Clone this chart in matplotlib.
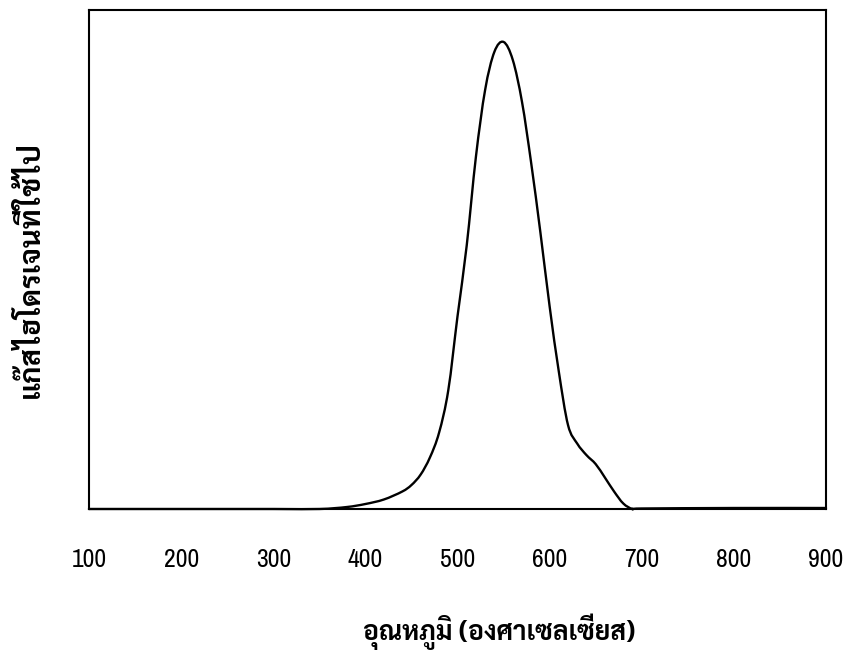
import numpy as np
import matplotlib
matplotlib.use("Agg")
import matplotlib.pyplot as plt
from matplotlib.path import Path
from matplotlib.patches import PathPatch

# Data
temperature = [100, 200, 300, 350, 380, 400, 420, 440, 450, 460, 470, 480, 490, 500,
               510, 520, 530, 540, 550, 560, 570, 580, 590, 600, 610, 620, 630,
               640, 650, 660, 670, 680, 690, 700, 800, 900]
h2_used = [0, 0, 0, 0, 0.4, 1.0, 1.9, 3.5, 4.8, 6.9, 10.3, 15.3, 23.8, 38.6,
           52.8, 70.6, 84.0, 91.6, 93.6, 90.0, 81.6, 69.3, 55.4, 40.6, 27.5, 16.8, 13.1,
           10.8, 9.0, 6.3, 3.5, 1.1, 0, 0.1, 0.2, 0.2]
x_ticks = [100, 200, 300, 400, 500, 600, 700, 800, 900]
x_label = "อุณหภูมิ (องศาเซลเซียส)"
y_label = "แก๊สไฮโดรเจนที่ใช้ไป"

THAI = ["Sarabun", "DejaVu Sans"]

fig = plt.figure(figsize=(8.46, 6.54), dpi=100)
ax = fig.add_axes([89/846, 1 - 509/654, (826-89)/846, (509-10)/654])

# Smoothed line (Catmull-Rom style Bezier, like a spreadsheet "smoothed line")
x = np.asarray(temperature, float)
y = np.asarray(h2_used, float)
verts = [(x[0], y[0])]
codes = [Path.MOVETO]
n = len(x)
for i in range(n - 1):
    p0 = (x[i-1], y[i-1]) if i > 0 else (x[i], y[i])
    p1 = (x[i], y[i])
    p2 = (x[i+1], y[i+1])
    p3 = (x[i+2], y[i+2]) if i + 2 < n else (x[i+1], y[i+1])
    c1 = (p1[0] + (p2[0]-p0[0])/6, p1[1] + (p2[1]-p0[1])/6)
    c2 = (p2[0] - (p3[0]-p1[0])/6, p2[1] - (p3[1]-p1[1])/6)
    verts += [c1, c2, p2]
    codes += [Path.CURVE4]*3
patch = PathPatch(Path(verts, codes), facecolor='none', edgecolor='black',
                  linewidth=1.7, clip_on=False, zorder=3, capstyle='round', joinstyle='round')
ax.add_patch(patch)

ax.set_xlim(100, 900)
ax.set_ylim(0, 100)
ax.set_xticks(x_ticks)
ax.set_xticklabels([str(t) for t in x_ticks], family="Archivo Narrow", fontsize=18.5)
ax.set_yticks([])
ax.tick_params(axis='x', length=0, pad=28)
for s in ax.spines.values():
    s.set_linewidth(1.5)
    s.set_color('black')

ax.set_xlabel(x_label, family=THAI, fontsize=19, fontweight='bold')
ax.xaxis.set_label_coords(0.557, -0.2465)
ax.xaxis.label.set_va('center')
ax.set_ylabel(y_label, family=THAI, fontsize=21, fontweight='bold')
ax.yaxis.set_label_coords(-0.0787, 0.479)
ax.yaxis.label.set_va('center')

fig.savefig("out.png", dpi=100)
